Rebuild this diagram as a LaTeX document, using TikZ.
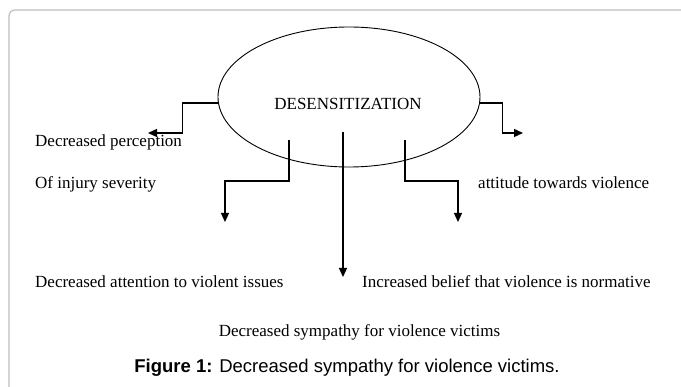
\documentclass[tikz,border=0pt]{standalone}
\usepackage{fontspec}
\setmainfont{Liberation Serif}
\newfontfamily\capfont{Liberation Sans}
\usepackage{tikz}
\usetikzlibrary{shapes,arrows.meta}
\definecolor{framegray}{RGB}{190,190,190}
\tikzstyle{lbl} = [anchor=base west, inner sep=0pt, font=\fontsize{17}{20}\selectfont]
\tikzstyle{link} = [line width=1.3pt, -{Triangle[length=9pt,width=8pt]}]

\begin{document}
\begin{tikzpicture}[x=1pt,y=-1pt]
	\clip (0,0) rectangle (681,387);
	\draw[framegray, line width=1.2pt, rounded corners=6pt] (9,400) -- (9,10) -- (700,10);
	\node[ellipse, draw, line width=0.9pt, minimum width=262pt, minimum height=140pt, inner sep=0pt] (desens) at (349,97) {};
	\node[inner sep=0pt, font=\fontsize{17}{20}\selectfont] (desenstext) at (348,104) {DESENSITIZATION};
	\coordinate (lend) at (148,133);
	\coordinate (rend) at (523,133);
	\coordinate (ilstart) at (289,140);
	\coordinate (ilend) at (225,222);
	\coordinate (irstart) at (405,140);
	\coordinate (irend) at (458,222);
	\coordinate (cstart) at (343,132);
	\coordinate (cend) at (343,277);
	\draw[link] (desens.west) ++(0,6) -- ++(-35,0) |- (lend);
	\draw[link] (desens.east) ++(0,6) -- ++(22,0) |- (rend);
	\draw[link] (ilstart) -- ++(0,41) -| (ilend);
	\draw[link] (irstart) -- ++(0,41) -| (irend);
	\draw[link] (cstart) -- (cend);
	\node[lbl] (percep) at (35,147) {Decreased perception};
	\node[lbl] (injury) at (35,189) {Of injury severity};
	\node[lbl] (attitude) at (478,189) {attitude towards violence};
	\node[lbl] (attention) at (35,288) {Decreased attention to violent issues};
	\node[lbl] (belief) at (362,288) {Increased belief that violence is normative};
	\node[lbl, anchor=base] (sympathy) at (359.5,337) {Decreased sympathy for violence victims};
	\node[anchor=base, inner sep=0pt, font=\capfont\fontsize{18.5}{22}\selectfont] (caption) at (347,373) {\textbf{Figure 1:} Decreased sympathy for violence victims.};
\end{tikzpicture}
\end{document}
